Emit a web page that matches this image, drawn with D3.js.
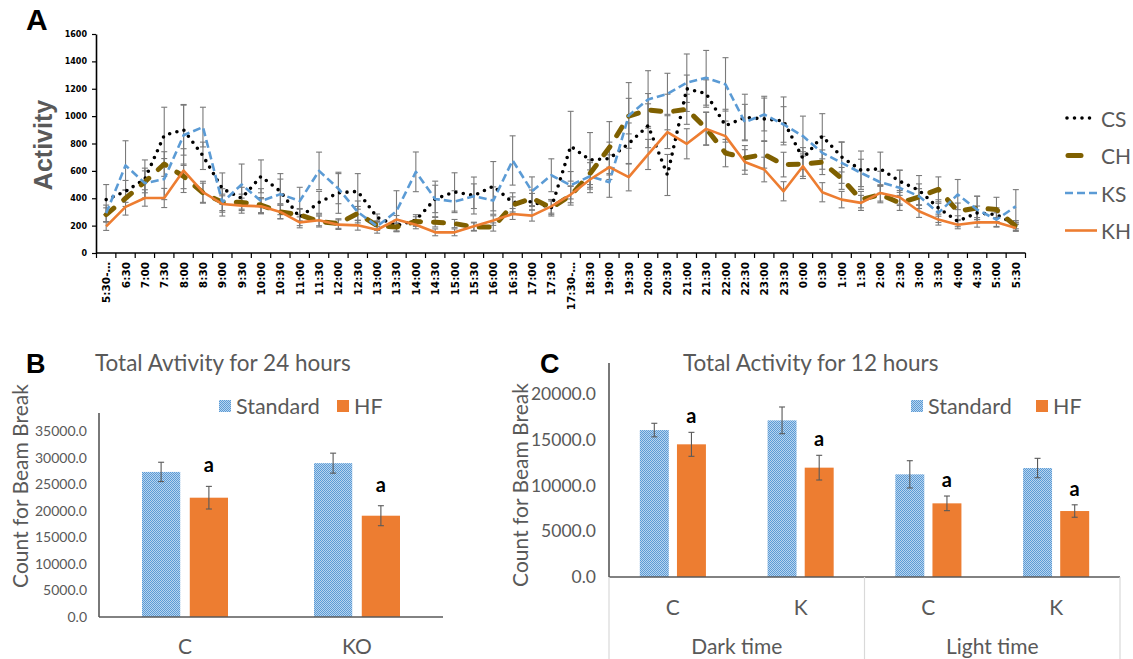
<!DOCTYPE html>
<html><head><meta charset="utf-8">
<script src="https://cdn.jsdelivr.net/npm/d3@7"></script>
<style>body{margin:0;background:#fff} svg{display:block}</style>
</head><body>
<svg id="chart" width="1133" height="659"></svg>
<script>
// ---------- Panel A data ----------
const timeLabels = ["5:30-…","6:30","7:00","7:30","8:00","8:30","9:00","9:30","10:00","10:30","11:00","11:30","12:00","12:30","13:00","13:30","14:00","14:30","15:00","15:30","16:00","16:30","17:00","17:30","17:30-…","18:30","19:00","19:30","20:00","20:30","21:00","21:30","22:00","22:30","23:00","23:30","0:00","0:30","1:00","1:30","2:00","2:30","3:00","3:30","4:00","4:30","5:00","5:30"];
const seriesNames = ["CS","CH","KS","KH"];
const valCS = [390,450,540,860,900,710,470,400,560,450,260,370,440,450,260,200,240,395,446,420,488,370,375,330,780,680,690,800,930,570,1200,1165,930,990,980,965,690,853,702,605,615,524,458,329,232,293,280,207];
const valCH = [280,400,520,650,560,440,370,370,350,300,280,230,215,290,200,190,230,225,215,190,190,350,400,330,420,580,770,1000,1045,1030,1050,910,730,695,720,646,650,663,545,390,427,366,410,465,305,330,317,195];
const valKS = [290,640,510,540,860,920,370,500,380,430,380,600,470,300,195,305,593,395,375,415,383,676,451,568,495,561,517,1005,1122,1163,1244,1280,1232,956,1012,939,854,732,659,585,517,476,415,293,427,317,244,341];
const valKH = [195,337,402,402,602,444,358,346,341,300,224,239,207,202,170,244,207,151,151,195,237,285,273,341,427,537,627,554,720,883,798,907,854,665,610,451,634,444,390,366,439,407,305,244,207,224,224,183];
const errCS = [110,80,140,205,185,100,115,80,120,90,60,80,150,130,25,40,40,130,140,135,180,70,60,60,255,200,120,150,160,150,100,100,120,170,165,175,80,165,110,140,122,81,108,60,40,50,50,30];
const errCH = [50,60,80,90,90,70,60,60,55,50,45,40,35,50,30,30,35,35,30,30,30,60,60,50,70,80,190,130,120,130,110,120,100,90,100,90,90,90,80,60,60,55,60,91,60,85,90,30];
const errKS = [60,180,110,150,220,145,100,150,90,150,100,137,110,80,30,150,145,100,80,90,100,180,105,120,100,120,110,240,210,150,210,200,195,130,120,130,146,120,150,100,80,129,90,70,110,98,50,122];
const errKH = [30,60,60,70,160,80,60,55,55,50,40,40,35,35,25,30,30,25,25,30,35,40,40,50,60,70,90,100,110,120,110,120,110,90,90,70,90,70,60,55,60,50,45,40,30,35,35,25];
const yTicksA = [0,200,400,600,800,1000,1200,1400,1600];

// ---------- Panel B data ----------
const groupsB = ["C","KO"];
const dietNames = ["Standard","HF"];
const stdB = [27300,28950];
const hfB = [22450,19060];
const stdErrB = [1820,1880];
const hfErrB = [2130,1880];
const yTicksB = [0,5000,10000,15000,20000,25000,30000,35000];
const sigB = ["a","a"];

// ---------- Panel C data ----------
const periodsC = ["Dark time","Light time"];
const genotypesC = ["C","K"];
const stdC = [16060,17120,11220,11910];
const hfC = [14500,11950,8050,7210];
const stdErrC = [740,1460,1490,1060];
const hfErrC = [1310,1350,800,680];
const yTicksC = [0,5000,10000,15000,20000];
const sigC = ["a","a","a","a"];

// ---------- drawing ----------
const svg = d3.select("#chart");
const SANS = "Lato, 'Open Sans', sans-serif";
const GREY = "#595959";
const ORANGE = "#ED7D31";

// pattern for "Standard"
const defs = svg.append("defs");
const pat = defs.append("pattern").attr("id","stdPat").attr("width",2).attr("height",2).attr("patternUnits","userSpaceOnUse");
pat.append("rect").attr("width",2).attr("height",2).attr("fill","#B8D4EF");
pat.append("rect").attr("width",1).attr("height",1).attr("fill","#5B9BD5");
pat.append("rect").attr("x",1).attr("y",1).attr("width",1).attr("height",1).attr("fill","#5B9BD5");

// ===== Panel A =====
const xA = d3.scaleBand().domain(timeLabels).range([96.5,1025.5]);
const yA = d3.scaleLinear().domain([0,1600]).range([253,34]);
const cx = i => xA(timeLabels[i]) + xA.bandwidth()/2;
const gA = svg.append("g");

gA.append("text").text("A").attr("x",26).attr("y",30)
  .attr("font-family","Liberation Sans, Arial, sans-serif").attr("font-weight","bold").attr("font-size",30).attr("fill","#000");

gA.append("text").text("Activity")
  .attr("transform","translate(52,145) rotate(-90)").attr("text-anchor","middle")
  .attr("font-family","Liberation Sans, Arial, sans-serif").attr("font-weight","bold").attr("font-size",25).attr("fill",GREY);

const seriesData = [
  {name:"CS", vals:valCS, errs:errCS, color:"#000000", width:3.6, dash:"0,7.5", cap:"round"},
  {name:"CH", vals:valCH, errs:errCH, color:"#7F6000", width:5, dash:"10,13", cap:"round"},
  {name:"KS", vals:valKS, errs:errKS, color:"#5B9BD5", width:2.6, dash:"8,4", cap:"butt"},
  {name:"KH", vals:valKH, errs:errKH, color:"#ED7D31", width:2.6, dash:null, cap:"butt"}
];

// error bars
const ebG = gA.append("g").attr("stroke","#7a7a7a").attr("stroke-width",1.1);
seriesData.forEach(s => {
  s.vals.forEach((v,i) => {
    const x0 = cx(i), y1 = yA(v + s.errs[i]), y2 = yA(Math.max(0, v - s.errs[i]));
    ebG.append("line").attr("x1",x0).attr("x2",x0).attr("y1",y1).attr("y2",y2);
    ebG.append("line").attr("x1",x0-3).attr("x2",x0+3).attr("y1",y1).attr("y2",y1);
    ebG.append("line").attr("x1",x0-3).attr("x2",x0+3).attr("y1",y2).attr("y2",y2);
  });
});

const line = d3.line().x((d,i)=>cx(i)).y(d=>yA(d));
seriesData.forEach(s => {
  gA.append("path").datum(s.vals).attr("d",line).attr("fill","none")
    .attr("stroke",s.color).attr("stroke-width",s.width)
    .attr("stroke-dasharray",s.dash).attr("stroke-linecap",s.cap).attr("stroke-linejoin","round");
});

// y axis
gA.append("g").attr("transform","translate(96,0)")
  .call(d3.axisLeft(yA).tickValues(yTicksA).tickSize(4).tickSizeOuter(0).tickPadding(5).tickFormat(d3.format("d")))
  .call(g=>g.select(".domain").attr("stroke","#000").attr("stroke-width",1.6))
  .call(g=>g.selectAll(".tick line").attr("stroke","#000").attr("stroke-width",1.2))
  .call(g=>g.selectAll("text").attr("font-family","DejaVu Sans, Verdana, sans-serif").attr("font-weight","bold").attr("font-size",8).attr("fill","#000"));

// x axis
const xAxisG = gA.append("g");
xAxisG.append("line").attr("x1",xA.range()[0]).attr("x2",xA.range()[1]).attr("y1",yA(0)).attr("y2",yA(0)).attr("stroke","#000").attr("stroke-width",1.6);
const bounds = timeLabels.map(l=>xA(l)).concat([xA.range()[1]]);
xAxisG.selectAll("line.tk").data(bounds).enter().append("line").attr("class","tk")
  .attr("x1",d=>d).attr("x2",d=>d).attr("y1",yA(0)).attr("y2",yA(0)+5).attr("stroke","#000").attr("stroke-width",1.2);
xAxisG.selectAll("text").data(timeLabels).enter().append("text")
  .attr("transform",(d,i)=>`translate(${cx(i)},${yA(0)+9}) rotate(-90)`)
  .attr("text-anchor","end").attr("dominant-baseline","central")
  .attr("font-family","DejaVu Sans, Verdana, sans-serif").attr("font-weight","bold").attr("font-size",10.5).attr("fill","#000")
  .text(d=>d);

// legend A
const legA = gA.append("g");
seriesData.forEach((s,i) => {
  const ly = 118 + i*37.5;
  const isCH = s.name === "CH";
  legA.append("line").attr("x1", isCH ? 1068 : (s.name==="CS"?1067:1065)).attr("x2", isCH ? 1081 : 1097)
    .attr("y1",ly).attr("y2",ly).attr("stroke",s.color).attr("stroke-width",s.width)
    .attr("stroke-dasharray", isCH ? null : s.dash).attr("stroke-linecap",s.cap);
  legA.append("text").text(s.name).attr("x", 1101).attr("y",ly).attr("dominant-baseline","central")
    .attr("font-family",SANS).attr("font-size",21).attr("fill",GREY);
});

// ===== generic bar drawing =====
function drawBarPanel(cfg){
  const g = svg.append("g");
  const y = d3.scaleLinear().domain(cfg.yDomain).range(cfg.yRange);
  const x = d3.scaleBand().domain(cfg.cats).range(cfg.xRange);
  const xs = d3.scaleBand().domain(dietNames).range([0,x.bandwidth()]).paddingInner(cfg.pIn).paddingOuter(cfg.pOut);
  // y axis labels
  g.append("g").attr("transform",`translate(${cfg.xRange[0]},0)`)
    .call(d3.axisLeft(y).tickValues(cfg.ticks).tickSize(0).tickPadding(cfg.tickPad).tickFormat(d3.format(".1f")))
    .call(gg=>gg.select(".domain").remove())
    .call(gg=>gg.selectAll("text").attr("font-family",SANS).attr("font-size",cfg.tickFont).attr("fill",GREY));
  // bars
  cfg.cats.forEach((c,i) => {
    const x0 = x(c);
    [["Standard",cfg.std[i],cfg.stdErr[i],"url(#stdPat)"],["HF",cfg.hf[i],cfg.hfErr[i],ORANGE]].forEach(([k,v,e,f]) => {
      const bx = x0 + xs(k);
      g.append("rect").attr("x",bx).attr("y",y(v)).attr("width",xs.bandwidth()).attr("height",y(0)-y(v)).attr("fill",f);
      const mx = bx + xs.bandwidth()/2;
      const eg = g.append("g").attr("stroke","#595959").attr("stroke-width",1.1);
      eg.append("line").attr("x1",mx).attr("x2",mx).attr("y1",y(v+e)).attr("y2",y(v-e));
      eg.append("line").attr("x1",mx-3).attr("x2",mx+3).attr("y1",y(v+e)).attr("y2",y(v+e));
      eg.append("line").attr("x1",mx-3).attr("x2",mx+3).attr("y1",y(v-e)).attr("y2",y(v-e));
      if (k==="HF") {
        g.append("text").text(cfg.sig[i]).attr("x",mx).attr("y",y(v+e)-cfg.sigOff)
          .attr("text-anchor","middle").attr("dominant-baseline","central")
          .attr("font-family",SANS).attr("font-weight","bold").attr("font-size",cfg.sigFont).attr("fill","#000");
      }
    });
  });
  // axis lines
  g.append("line").attr("x1",cfg.xRange[0]).attr("x2",cfg.xRange[0]).attr("y1",y(0)).attr("y2",cfg.axisTop).attr("stroke","#404040").attr("stroke-width",1.4);
  g.append("line").attr("x1",cfg.xRange[0]-(cfg.baseExt||0)).attr("x2",cfg.xRange[1]).attr("y1",y(0)).attr("y2",y(0)).attr("stroke","#595959").attr("stroke-width",1.4);
  return {g,x,y,xs};
}

// ===== Panel B =====
const pB = drawBarPanel({cats:groupsB, std:stdB, hf:hfB, stdErr:stdErrB, hfErr:hfErrB, sig:sigB,
  yDomain:[0,35000], yRange:[617,431], xRange:[99,443], pIn:0.2, pOut:0.9, ticks:yTicksB,
  tickPad:12, tickFont:14, axisTop:413, sigOff:22, sigFont:20, baseExt:0});
pB.g.selectAll("text.cat").data(groupsB).enter().append("text").attr("class","cat")
  .attr("x",d=>pB.x(d)+pB.x.bandwidth()/2).attr("y",645).attr("text-anchor","middle").attr("dominant-baseline","central")
  .attr("font-family",SANS).attr("font-size",21).attr("fill",GREY).text(d=>d);
pB.g.append("text").text("B").attr("x",26).attr("y",373).attr("font-family","Liberation Sans, Arial, sans-serif").attr("font-weight","bold").attr("font-size",27).attr("fill","#000");
pB.g.append("text").text("Total Avtivity for 24 hours").attr("x",95).attr("y",362).attr("dominant-baseline","central")
  .attr("font-family",SANS).attr("font-size",22.5).attr("fill",GREY);
pB.g.append("text").text("Count for Beam Break").attr("transform","translate(19,486) rotate(-90)").attr("text-anchor","middle").attr("dominant-baseline","central")
  .attr("font-family",SANS).attr("font-size",21).attr("fill",GREY);

function legendBars(g, xs, y){
  dietNames.forEach((d,i) => {
    g.append("rect").attr("x",xs[i]).attr("y",y-6).attr("width",12).attr("height",12).attr("fill", d==="Standard" ? "url(#stdPat)" : ORANGE);
    g.append("text").text(d).attr("x",xs[i]+17).attr("y",y).attr("dominant-baseline","central")
      .attr("font-family",SANS).attr("font-size",21.5).attr("fill",GREY);
  });
}
legendBars(pB.g,[219,337],406);

// ===== Panel C =====
const catsC = [];
periodsC.forEach(p => genotypesC.forEach(gn => catsC.push(p+"|"+gn)));
const pC = drawBarPanel({cats:catsC, std:stdC, hf:hfC, stdErr:stdErrC, hfErr:hfErrC, sig:sigC,
  yDomain:[0,20000], yRange:[577,394], xRange:[609,1120], pIn:0.22, pOut:0.83, ticks:yTicksC,
  tickPad:13, tickFont:17.5, axisTop:363, sigOff:17, sigFont:20, baseExt:0});
pC.g.selectAll("text.cat").data(catsC).enter().append("text").attr("class","cat")
  .attr("x",d=>pC.x(d)+pC.x.bandwidth()/2).attr("y",606).attr("text-anchor","middle").attr("dominant-baseline","central")
  .attr("font-family",SANS).attr("font-size",21).attr("fill",GREY).text(d=>d.split("|")[1]);
// group separators and group labels
const sepX = [pC.x(catsC[0]), pC.x(catsC[2]), pC.x.range()[1]];
pC.g.selectAll("line.sep").data(sepX).enter().append("line").attr("class","sep")
  .attr("x1",d=>d).attr("x2",d=>d).attr("y1",pC.y(0)).attr("y2",659).attr("stroke","#D9D9D9").attr("stroke-width",1.2);
pC.g.selectAll("text.per").data(periodsC).enter().append("text").attr("class","per")
  .attr("x",(d,i)=>(sepX[i]+sepX[i+1])/2).attr("y",645).attr("text-anchor","middle").attr("dominant-baseline","central")
  .attr("font-family",SANS).attr("font-size",21).attr("fill",GREY).text(d=>d);
pC.g.append("text").text("C").attr("x",540).attr("y",373).attr("font-family","Liberation Sans, Arial, sans-serif").attr("font-weight","bold").attr("font-size",27).attr("fill","#000");
pC.g.append("text").text("Total Activity for 12 hours").attr("x",683).attr("y",362).attr("dominant-baseline","central")
  .attr("font-family",SANS).attr("font-size",22.5).attr("fill",GREY);
pC.g.append("text").text("Count for Beam Break").attr("transform","translate(519,485) rotate(-90)").attr("text-anchor","middle").attr("dominant-baseline","central")
  .attr("font-family",SANS).attr("font-size",21).attr("fill",GREY);
legendBars(pC.g,[911,1036],406);
</script>
</body></html>
